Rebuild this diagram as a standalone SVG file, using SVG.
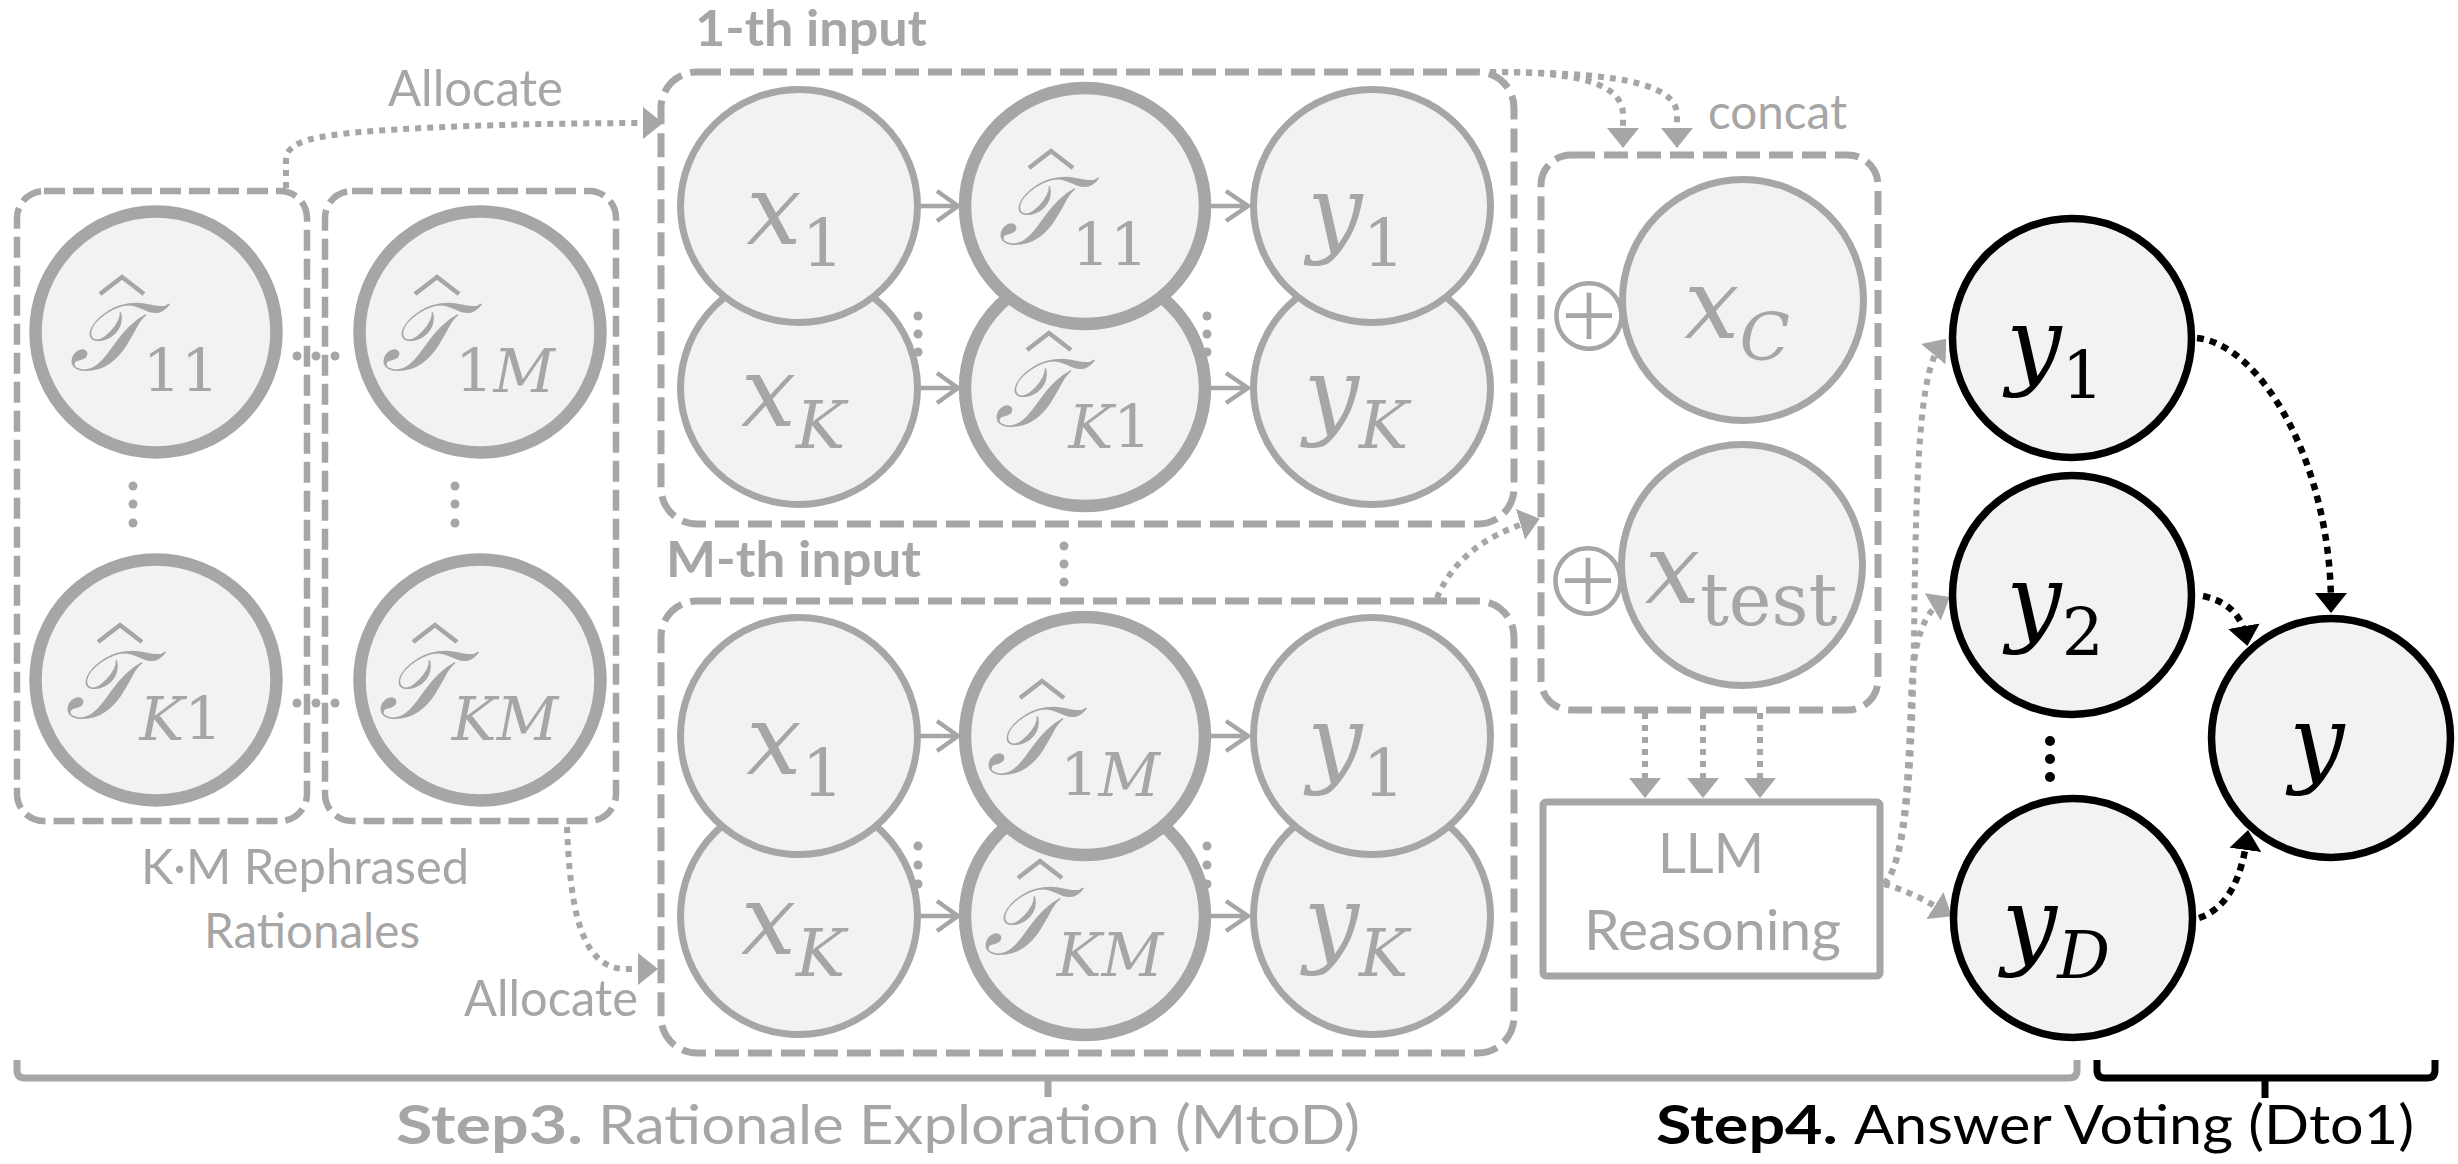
<svg xmlns="http://www.w3.org/2000/svg" width="2458" height="1164" viewBox="0 0 2458 1164">
<defs>
<style>
.gd{fill:none;stroke:#a6a6a6;stroke-width:7;stroke-dasharray:24 9}
.gdl{fill:none;stroke:#a6a6a6;stroke-width:6.5;stroke-dasharray:21 8}
.dt{fill:none;stroke:#a6a6a6;stroke-width:6;stroke-dasharray:6 6}
.dtb{fill:none;stroke:#000;stroke-width:6.5;stroke-dasharray:7 6}
.sol{fill:none;stroke:#a6a6a6;stroke-width:4.5}
.nt{fill:#f2f2f2;stroke:#a6a6a6;stroke-width:7}
.nk{fill:#f2f2f2;stroke:#a6a6a6;stroke-width:12.5}
.nb{fill:#f2f2f2;stroke:#000;stroke-width:7.5}
.hat{fill:none;stroke:#a6a6a6;stroke-width:4.5}
.m{font-family:"DejaVu Serif",serif;font-style:italic;font-size:98px}
.mg{fill:#a6a6a6}
.mb{fill:#000}
.s{font-size:66px}
.s2{font-size:60px}
.st{font-size:72px}
.u{font-style:normal}
.tt{font-size:96px}
.lb{font-family:Lato,"Liberation Sans",sans-serif;fill:#a6a6a6}
.op{font-family:"Noto Sans CJK JP","DejaVu Sans",sans-serif;font-weight:200;font-size:94px;fill:#a6a6a6}
.pg{fill:#a6a6a6}
.pb{fill:#000}
.br{fill:none;stroke-width:7;stroke-linejoin:round}
</style>
<marker id="ag" markerUnits="userSpaceOnUse" viewBox="0 0 20 32" markerWidth="20" markerHeight="32" refX="12" refY="16" orient="auto"><path d="M0,0 L20,16 L0,32 Z" fill="#a6a6a6"/></marker>
<marker id="ab" markerUnits="userSpaceOnUse" viewBox="0 0 20 32" markerWidth="20" markerHeight="32" refX="12" refY="16" orient="auto"><path d="M0,0 L20,16 L0,32 Z" fill="#000"/></marker>
</defs>
<rect width="2458" height="1164" fill="#fff"/>

<!-- container boxes -->
<g id="box-left-1"><rect class="gdl" x="17" y="191" width="290" height="630" rx="27"/></g>
<g id="box-left-2"><rect class="gdl" x="325" y="191" width="291" height="630" rx="27"/></g>
<g id="box-1th"><rect class="gd" x="661" y="72" width="853" height="452" rx="36"/></g>
<g id="box-mth"><rect class="gd" x="661" y="601" width="853" height="452" rx="36"/></g>
<g id="box-concat"><rect class="gd" x="1541" y="155" width="337" height="555" rx="30"/></g>

<!-- connectors -->
<g id="connectors">
<path class="dt" d="M286,188 V160 C286,140 320,136 360,132 C450,125 560,123 655,123" marker-end="url(#ag)"/>
<path class="dt" d="M567,827 C570,900 578,968 625,969 L650,969" marker-end="url(#ag)"/>
<path class="dt" d="M1490,72 C1560,72 1623,78 1623,115 V140" marker-end="url(#ag)"/>
<path class="dt" d="M1490,72 C1610,72 1677,82 1677,115 V140" marker-end="url(#ag)"/>
<path class="dt" d="M1437,598 C1450,566 1478,537 1532,521" marker-end="url(#ag)"/>
<path class="dt" d="M1645,713 V790" marker-end="url(#ag)"/>
<path class="dt" d="M1703,713 V790" marker-end="url(#ag)"/>
<path class="dt" d="M1760,713 V790" marker-end="url(#ag)"/>
<path class="dt" d="M1884,884 C1908,860 1912,760 1914,640 C1916,460 1920,370 1941,345" marker-end="url(#ag)"/>
<path class="dt" d="M1884,884 C1904,866 1908,780 1911,700 C1913,640 1924,612 1943,601" marker-end="url(#ag)"/>
<path class="dt" d="M1884,884 Q1915,893 1945,912" marker-end="url(#ag)"/>
<path class="dtb" d="M2197,338 C2262,345 2331,465 2331,605" marker-end="url(#ab)"/>
<path class="dtb" d="M2203,596 Q2240,604 2246,638" marker-end="url(#ab)"/>
<path class="dtb" d="M2199,918 Q2238,905 2247,838" marker-end="url(#ab)"/>
<path class="sol" d="M921,206 H957 M937,191 L958,206 L937,221 M1211,206 H1247 M1226,191 L1248,206 L1226,221"/>
<path class="sol" d="M921,388 H957 M937,373 L958,388 L937,403 M1211,388 H1247 M1226,373 L1248,388 L1226,403"/>
<path class="sol" d="M921,736 H957 M937,721 L958,736 L937,751 M1211,736 H1247 M1226,721 L1248,736 L1226,751"/>
<path class="sol" d="M921,916 H957 M937,901 L958,916 L937,931 M1211,916 H1247 M1226,901 L1248,916 L1226,931"/>
</g>

<!-- left rephrased rationales -->
<g id="node-L-T11"><circle class="nk" cx="156" cy="332" r="120.5"/><polyline class="hat" points="100,294 122,277 144,294"/><text class="m mg" x="144" y="370" text-anchor="middle"><tspan class="tt">𝒯</tspan><tspan class="s2 u" dy="22">11</tspan></text></g>
<g id="node-L-T1M"><circle class="nk" cx="480" cy="332" r="120.5"/><polyline class="hat" points="415,294 437,277 459,294"/><text class="m mg" x="468" y="370" text-anchor="middle"><tspan class="tt">𝒯</tspan><tspan class="s2" dy="22"><tspan class="u">1</tspan>M</tspan></text></g>
<g id="node-L-TK1"><circle class="nk" cx="156" cy="680" r="120.5"/><polyline class="hat" points="98,642 120,625 142,642"/><text class="m mg" x="144" y="718" text-anchor="middle"><tspan class="tt">𝒯</tspan><tspan class="s2" dy="22">K<tspan class="u">1</tspan></tspan></text></g>
<g id="node-L-TKM"><circle class="nk" cx="480" cy="680" r="120.5"/><polyline class="hat" points="413,642 435,625 457,642"/><text class="m mg" x="468" y="718" text-anchor="middle"><tspan class="tt">𝒯</tspan><tspan class="s2" dy="22">KM</tspan></text></g>
<g id="dots-left" class="pg">
<circle cx="133" cy="486" r="4.5"/><circle cx="133" cy="504" r="4.5"/><circle cx="133" cy="523" r="4.5"/>
<circle cx="455" cy="486" r="4.5"/><circle cx="455" cy="504" r="4.5"/><circle cx="455" cy="523" r="4.5"/>
<circle cx="297" cy="356" r="4.5"/><circle cx="316" cy="356" r="4.5"/><circle cx="335" cy="356" r="4.5"/>
<circle cx="297" cy="703" r="4.5"/><circle cx="316" cy="703" r="4.5"/><circle cx="335" cy="703" r="4.5"/>
</g>

<!-- 1-th input -->
<g id="node-1-xK"><ellipse class="nt" cx="799" cy="388" rx="118.5" ry="116.5"/><text class="m mg" x="793" y="426" text-anchor="middle">x<tspan class="s" dy="22">K</tspan></text></g>
<g id="node-1-TK1"><ellipse class="nk" cx="1085" cy="388" rx="120" ry="118"/><polyline class="hat" points="1027,350 1049,333 1071,350"/><text class="m mg" x="1073" y="426" text-anchor="middle"><tspan class="tt">𝒯</tspan><tspan class="s2" dy="22">K<tspan class="u">1</tspan></tspan></text></g>
<g id="node-1-yK"><ellipse class="nt" cx="1372" cy="388" rx="118.5" ry="116.5"/><text class="m mg" x="1356" y="426" text-anchor="middle">y<tspan class="s" dy="22">K</tspan></text></g>
<g id="node-1-x1"><ellipse class="nt" cx="799" cy="206" rx="118.5" ry="116.5"/><text class="m mg" x="795" y="244" text-anchor="middle">x<tspan class="s u" dy="22">1</tspan></text></g>
<g id="node-1-T11"><ellipse class="nk" cx="1085" cy="206" rx="120" ry="118"/><polyline class="hat" points="1029,168 1051,151 1073,168"/><text class="m mg" x="1073" y="244" text-anchor="middle"><tspan class="tt">𝒯</tspan><tspan class="s2 u" dy="22">11</tspan></text></g>
<g id="node-1-y1"><ellipse class="nt" cx="1372" cy="206" rx="118.5" ry="116.5"/><text class="m mg" x="1356" y="244" text-anchor="middle">y<tspan class="s u" dy="22">1</tspan></text></g>

<!-- M-th input -->
<g id="node-M-xK"><ellipse class="nt" cx="799" cy="916" rx="118.5" ry="118.5"/><text class="m mg" x="793" y="954" text-anchor="middle">x<tspan class="s" dy="22">K</tspan></text></g>
<g id="node-M-TKM"><ellipse class="nk" cx="1085" cy="916" rx="120" ry="119"/><polyline class="hat" points="1018,878 1040,861 1062,878"/><text class="m mg" x="1073" y="954" text-anchor="middle"><tspan class="tt">𝒯</tspan><tspan class="s2" dy="22">KM</tspan></text></g>
<g id="node-M-yK"><ellipse class="nt" cx="1372" cy="916" rx="118.5" ry="118.5"/><text class="m mg" x="1356" y="954" text-anchor="middle">y<tspan class="s" dy="22">K</tspan></text></g>
<g id="node-M-x1"><ellipse class="nt" cx="799" cy="736" rx="118.5" ry="118.5"/><text class="m mg" x="795" y="774" text-anchor="middle">x<tspan class="s u" dy="22">1</tspan></text></g>
<g id="node-M-T1M"><ellipse class="nk" cx="1085" cy="736" rx="120" ry="119"/><polyline class="hat" points="1020,698 1042,681 1064,698"/><text class="m mg" x="1073" y="774" text-anchor="middle"><tspan class="tt">𝒯</tspan><tspan class="s2" dy="22"><tspan class="u">1</tspan>M</tspan></text></g>
<g id="node-M-y1"><ellipse class="nt" cx="1372" cy="736" rx="118.5" ry="118.5"/><text class="m mg" x="1356" y="774" text-anchor="middle">y<tspan class="s u" dy="22">1</tspan></text></g>

<g id="dots-inputs" class="pg">
<circle cx="918" cy="316" r="4.5"/><circle cx="918" cy="334" r="4.5"/><circle cx="918" cy="352" r="4.5"/>
<circle cx="1207" cy="316" r="4.5"/><circle cx="1207" cy="334" r="4.5"/><circle cx="1207" cy="352" r="4.5"/>
<circle cx="918" cy="846" r="4.5"/><circle cx="918" cy="865" r="4.5"/><circle cx="918" cy="884" r="4.5"/>
<circle cx="1207" cy="846" r="4.5"/><circle cx="1207" cy="865" r="4.5"/><circle cx="1207" cy="884" r="4.5"/>
<circle cx="1064" cy="546" r="4.5"/><circle cx="1064" cy="564" r="4.5"/><circle cx="1064" cy="582" r="4.5"/>
</g>

<!-- concat box content -->
<g id="node-xC"><circle class="nt" cx="1743" cy="300" r="120.5"/><text class="m mg" x="1737" y="338" text-anchor="middle">x<tspan class="s" dy="22">C</tspan></text><text class="op" x="1589" y="352" text-anchor="middle">⊕</text></g>
<g id="node-xtest"><circle class="nt" cx="1742" cy="565" r="120.5"/><text class="m mg" x="1741" y="603" text-anchor="middle">x<tspan class="st u" dy="22">test</tspan></text><text class="op" x="1588" y="617" text-anchor="middle">⊕</text></g>

<g id="node-llm"><rect x="1543" y="802" width="337" height="174" rx="3" fill="#fff" stroke="#a6a6a6" stroke-width="7"/>
<text class="lb" x="1658" y="873" font-size="56" textLength="106" lengthAdjust="spacingAndGlyphs">LLM</text>
<text class="lb" x="1584" y="950" font-size="56" textLength="257" lengthAdjust="spacingAndGlyphs">Reasoning</text></g>

<!-- step 4 -->
<g id="node-y1"><circle class="nb" cx="2072" cy="338" r="119.5"/><text class="m mb" x="2055" y="376" text-anchor="middle">y<tspan class="s u" dy="22">1</tspan></text></g>
<g id="node-y2"><circle class="nb" cx="2072" cy="595" r="119.5"/><text class="m mb" x="2055" y="633" text-anchor="middle">y<tspan class="s u" dy="22">2</tspan></text></g>
<g id="node-yD"><circle class="nb" cx="2073" cy="918" r="119.5"/><text class="m mb" x="2056" y="956" text-anchor="middle">y<tspan class="s" dy="22">D</tspan></text></g>
<g id="node-y"><circle class="nb" cx="2331" cy="738" r="119.5"/><text class="m mb" x="2317" y="774" text-anchor="middle">y</text></g>
<g id="dots-step4" class="pb"><circle cx="2050" cy="741" r="5"/><circle cx="2050" cy="759" r="5"/><circle cx="2050" cy="777" r="5"/></g>

<!-- labels -->
<g id="labels">
<text class="lb" x="695" y="46" font-size="49" font-weight="700" textLength="232" lengthAdjust="spacingAndGlyphs">1-th input</text>
<text class="lb" x="666" y="577" font-size="49" font-weight="700" textLength="255" lengthAdjust="spacingAndGlyphs">M-th input</text>
<text class="lb" x="388" y="106" font-size="50" textLength="175" lengthAdjust="spacingAndGlyphs">Allocate</text>
<text class="lb" x="464" y="1016" font-size="50" textLength="174" lengthAdjust="spacingAndGlyphs">Allocate</text>
<text class="lb" x="1708" y="129" font-size="48" textLength="139" lengthAdjust="spacingAndGlyphs">concat</text>
<text class="lb" x="141" y="884" font-size="48" textLength="328" lengthAdjust="spacingAndGlyphs">K·M Rephrased</text>
<text class="lb" x="204" y="948" font-size="48" textLength="216" lengthAdjust="spacingAndGlyphs">Rationales</text>
</g>

<!-- bottom brackets and step titles -->
<g id="step3">
<path class="br" stroke="#a6a6a6" d="M17,1060 V1070 Q17,1078 25,1078 H2069 Q2077,1078 2077,1070 V1060 M1048,1078 V1097"/>
<text class="lb" x="396" y="1144" font-size="54" font-weight="700" textLength="187" lengthAdjust="spacingAndGlyphs">Step3.</text>
<text class="lb" x="598" y="1144" font-size="54" textLength="762" lengthAdjust="spacingAndGlyphs">Rationale Exploration (MtoD)</text>
</g>
<g id="step4">
<path class="br" stroke="#000" d="M2097,1060 V1070 Q2097,1078 2105,1078 H2427 Q2435,1078 2435,1070 V1060 M2265,1078 V1098"/>
<text x="1656" y="1144" font-family="Lato,'Liberation Sans',sans-serif" font-size="54" font-weight="700" fill="#000" textLength="182" lengthAdjust="spacingAndGlyphs">Step4.</text>
<text x="1854" y="1144" font-family="Lato,'Liberation Sans',sans-serif" font-size="54" fill="#000" textLength="560" lengthAdjust="spacingAndGlyphs">Answer Voting (Dto1)</text>
</g>
</svg>
